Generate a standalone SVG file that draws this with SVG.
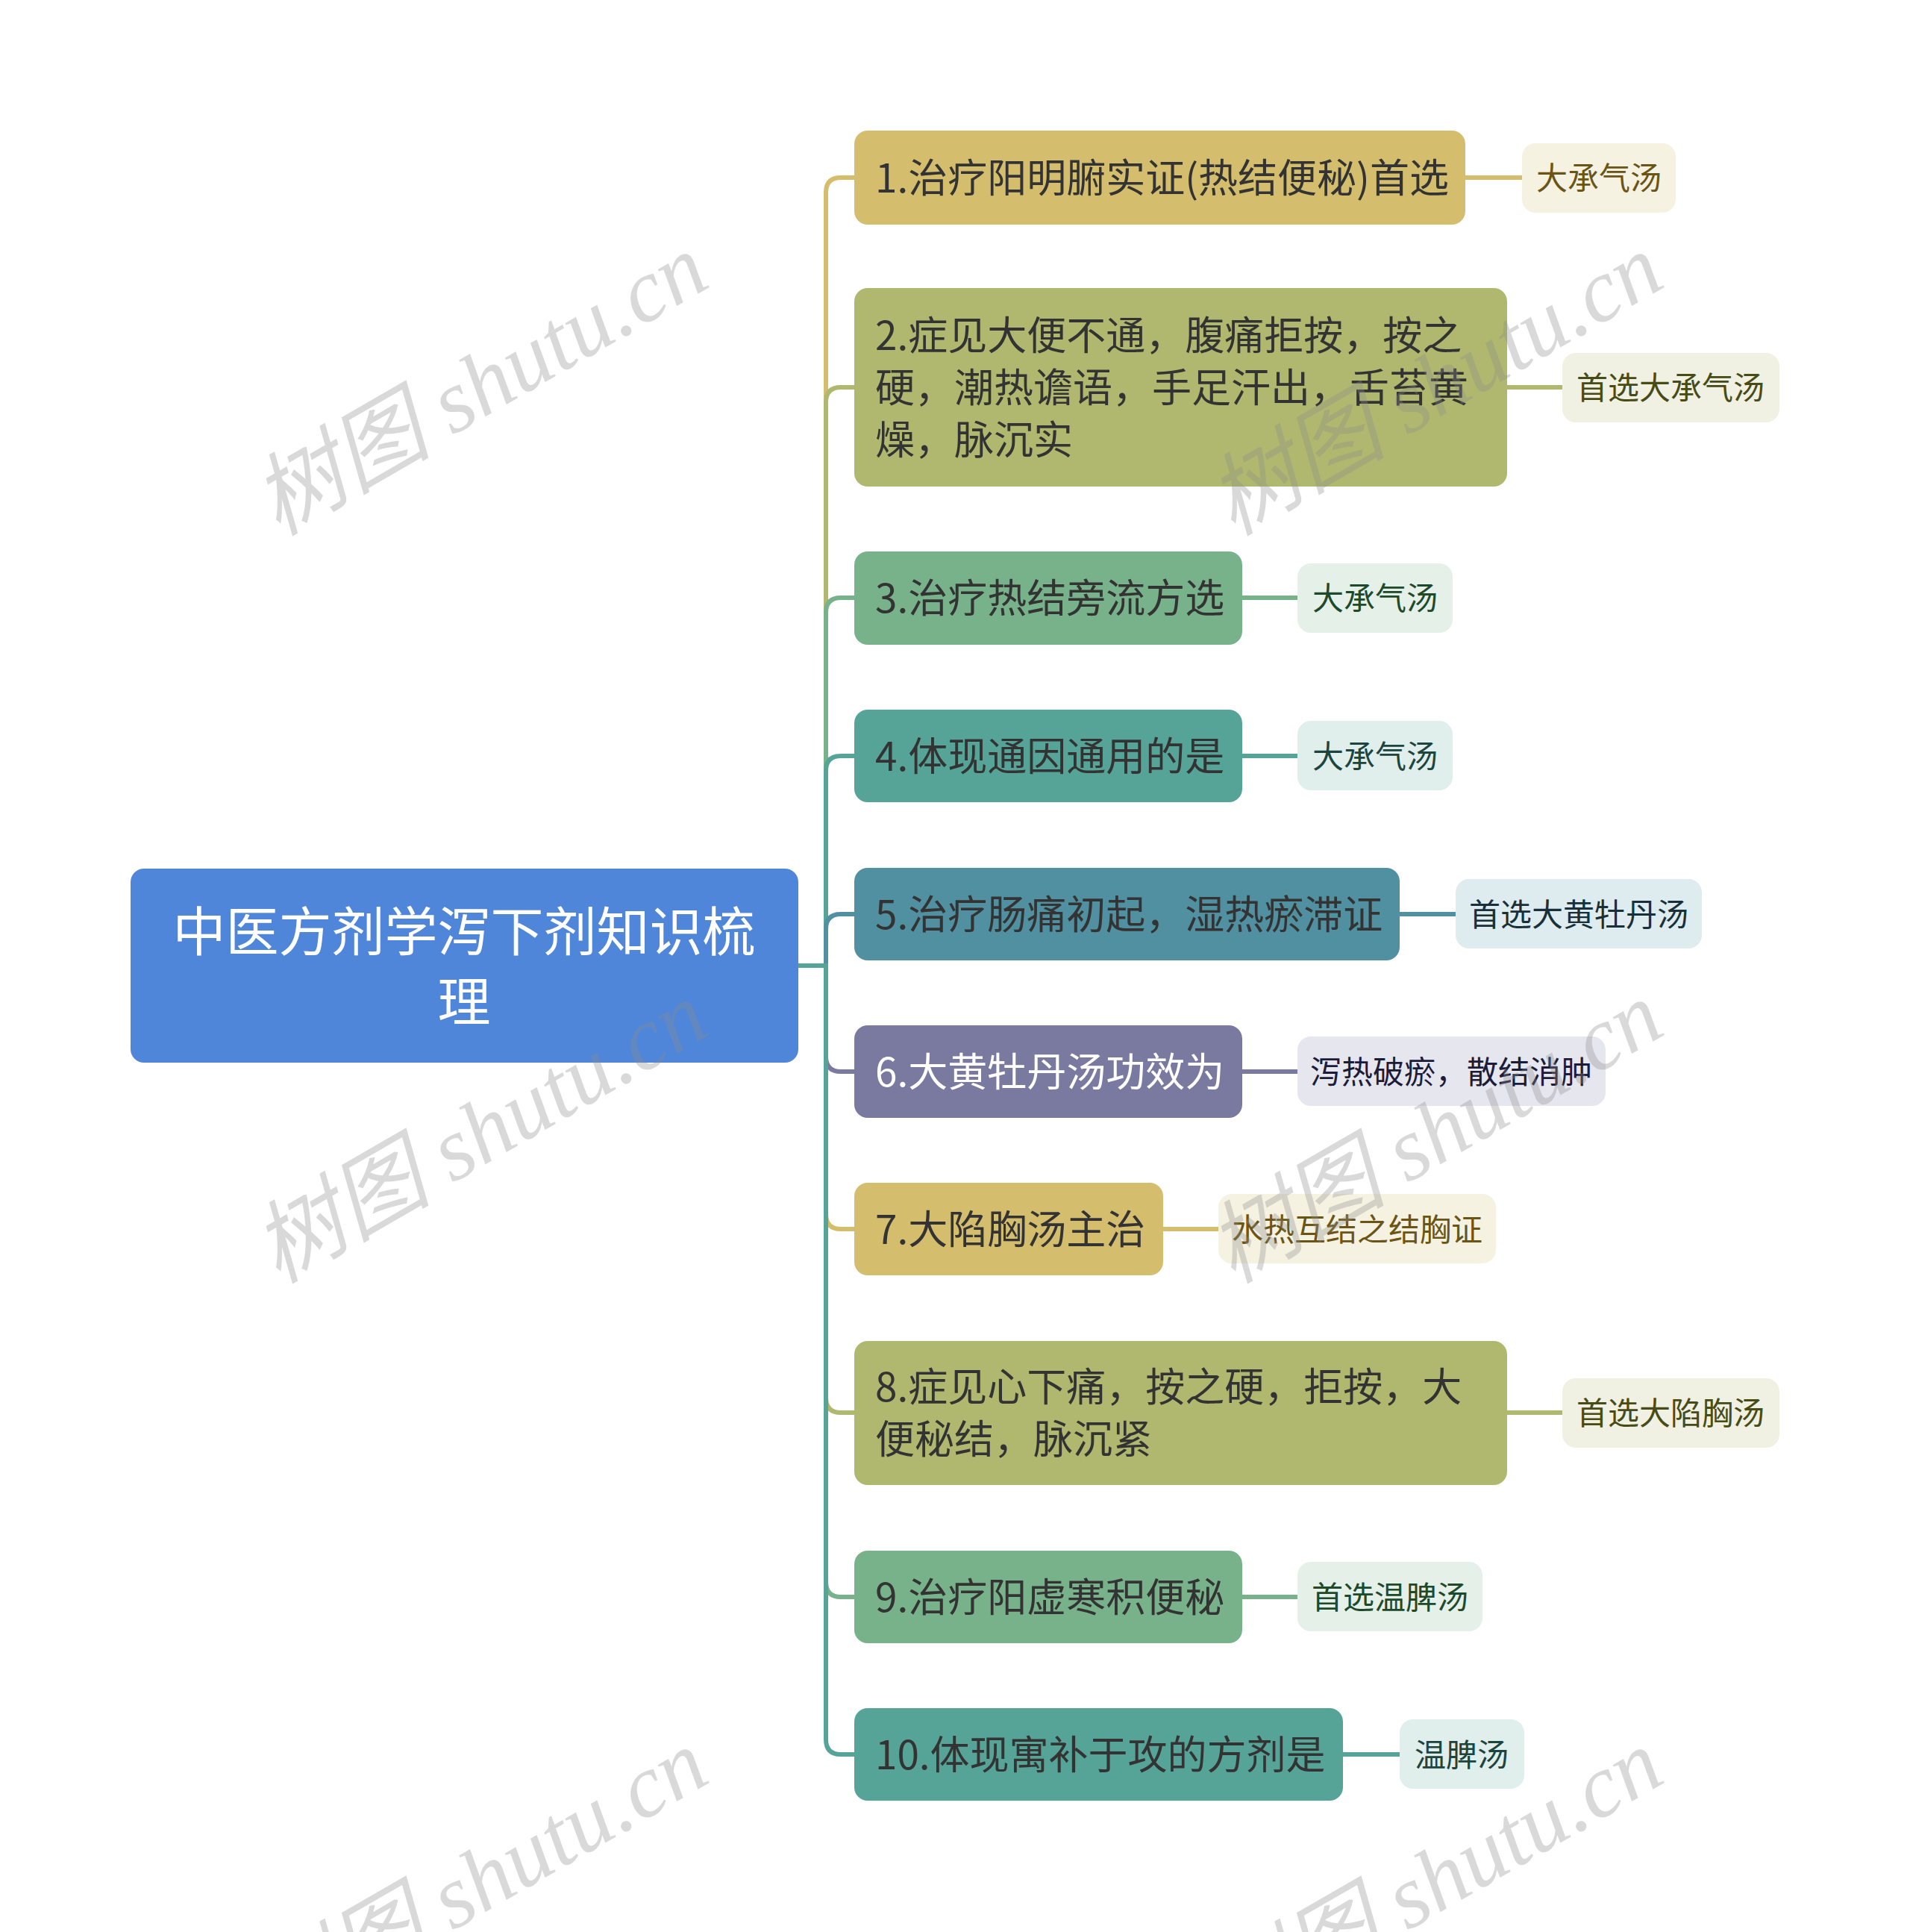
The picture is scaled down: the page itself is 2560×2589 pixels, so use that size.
<svg xmlns="http://www.w3.org/2000/svg" width="2560" height="2589" viewBox="0 0 2560 2589">
<style>
text{font-family:"Noto Sans CJK SC","Noto Sans",sans-serif;}
.nt{font-size:53px;fill:#333333;}
.lt{font-size:42px;text-anchor:middle;}
.rt{font-size:71px;fill:#ffffff;text-anchor:middle;}
.cn{fill:none;stroke-width:6;stroke-linecap:round;stroke-linejoin:round;}
.wm{font-family:"Liberation Serif","Noto Sans CJK SC",serif;font-style:italic;font-size:120px;fill:#8c8c8c;fill-opacity:0.33;text-anchor:middle;}
</style>
<rect width="2560" height="2589" fill="#ffffff"/>
<g id="connectors">
<path class="cn" stroke="#d4be6e" d="M1070,1294 H1107 V258 Q1107,238 1127,238 H1145"/>
<path class="cn" stroke="#afb86e" d="M1070,1294 H1107 V539 Q1107,519 1127,519 H1145"/>
<path class="cn" stroke="#78b28a" d="M1070,1294 H1107 V821 Q1107,801 1127,801 H1145"/>
<path class="cn" stroke="#56a498" d="M1070,1294 H1107 V1033 Q1107,1013 1127,1013 H1145"/>
<path class="cn" stroke="#5090a0" d="M1070,1294 H1107 V1245 Q1107,1225 1127,1225 H1145"/>
<path class="cn" stroke="#7a79a0" d="M1070,1294 H1107 V1416 Q1107,1436 1127,1436 H1145"/>
<path class="cn" stroke="#d4be6e" d="M1070,1294 H1107 V1627 Q1107,1647 1127,1647 H1145"/>
<path class="cn" stroke="#afb86e" d="M1070,1294 H1107 V1873 Q1107,1893 1127,1893 H1145"/>
<path class="cn" stroke="#78b28a" d="M1070,1294 H1107 V2120 Q1107,2140 1127,2140 H1145"/>
<path class="cn" stroke="#56a498" d="M1070,1294 H1107 V2331 Q1107,2351 1127,2351 H1145"/>
<path class="cn" stroke="#d4be6e" d="M1964,238 H2040"/>
<path class="cn" stroke="#afb86e" d="M2020,519 H2094"/>
<path class="cn" stroke="#78b28a" d="M1665,801 H1739"/>
<path class="cn" stroke="#56a498" d="M1665,1013 H1739"/>
<path class="cn" stroke="#5090a0" d="M1876,1225 H1951"/>
<path class="cn" stroke="#7a79a0" d="M1665,1436 H1739"/>
<path class="cn" stroke="#d4be6e" d="M1559,1647 H1633"/>
<path class="cn" stroke="#afb86e" d="M2020,1893 H2094"/>
<path class="cn" stroke="#78b28a" d="M1665,2140 H1739"/>
<path class="cn" stroke="#56a498" d="M1800,2351 H1876"/>
</g>
<g id="root">
<rect x="175" y="1164" width="895" height="260" rx="18" fill="#4f86d9"/>
<text class="rt" x="622" y="1274">中医方剂学泻下剂知识梳</text>
<text class="rt" x="622" y="1368">理</text>
</g>
<g id="n1"><rect x="1145" y="175" width="819" height="126" rx="18" fill="#d4be6e"/><text class="nt" x="1173" y="258">1.治疗阳明腑实证(热结便秘)首选</text></g>
<g id="n2"><rect x="1145" y="386" width="875" height="266" rx="18" fill="#afb86e"/><text class="nt" x="1173" y="469">2.症见大便不通，腹痛拒按，按之</text><text class="nt" x="1173" y="539">硬，潮热谵语，手足汗出，舌苔黄</text><text class="nt" x="1173" y="609">燥，脉沉实</text></g>
<g id="n3"><rect x="1145" y="739" width="520" height="125" rx="18" fill="#78b28a"/><text class="nt" x="1173" y="821">3.治疗热结旁流方选</text></g>
<g id="n4"><rect x="1145" y="951" width="520" height="124" rx="18" fill="#56a498"/><text class="nt" x="1173" y="1033">4.体现通因通用的是</text></g>
<g id="n5"><rect x="1145" y="1163" width="731" height="124" rx="18" fill="#5090a0"/><text class="nt" x="1173" y="1245">5.治疗肠痛初起，湿热瘀滞证</text></g>
<g id="n6"><rect x="1145" y="1374" width="520" height="124" rx="18" fill="#7a79a0"/><text class="nt" x="1173" y="1456" style="fill:#ffffff">6.大黄牡丹汤功效为</text></g>
<g id="n7"><rect x="1145" y="1585" width="414" height="124" rx="18" fill="#d4be6e"/><text class="nt" x="1173" y="1667">7.大陷胸汤主治</text></g>
<g id="n8"><rect x="1145" y="1797" width="875" height="193" rx="18" fill="#afb86e"/><text class="nt" x="1173" y="1878">8.症见心下痛，按之硬，拒按，大</text><text class="nt" x="1173" y="1948">便秘结，脉沉紧</text></g>
<g id="n9"><rect x="1145" y="2078" width="520" height="124" rx="18" fill="#78b28a"/><text class="nt" x="1173" y="2160">9.治疗阳虚寒积便秘</text></g>
<g id="n10"><rect x="1145" y="2289" width="655" height="124" rx="18" fill="#56a498"/><text class="nt" x="1173" y="2371">10.体现寓补于攻的方剂是</text></g>
<g id="l1"><rect x="2040" y="192" width="206" height="93" rx="18" fill="#f6f2e2"/><text class="lt" x="2143" y="254" fill="#6a5516">大承气汤</text></g>
<g id="l2"><rect x="2094" y="473" width="291" height="93" rx="18" fill="#f0f1e3"/><text class="lt" x="2239" y="535" fill="#474c16">首选大承气汤</text></g>
<g id="l3"><rect x="1739" y="755" width="208" height="93" rx="18" fill="#e5f0e9"/><text class="lt" x="1843" y="817" fill="#1d4a2b">大承气汤</text></g>
<g id="l4"><rect x="1739" y="966" width="208" height="93" rx="18" fill="#e0efec"/><text class="lt" x="1843" y="1029" fill="#1d4540">大承气汤</text></g>
<g id="l5"><rect x="1951" y="1178" width="330" height="93" rx="18" fill="#deebef"/><text class="lt" x="2116" y="1241" fill="#17303a">首选大黄牡丹汤</text></g>
<g id="l6"><rect x="1739" y="1389" width="413" height="93" rx="18" fill="#e6e6ef"/><text class="lt" x="1945" y="1452" fill="#1c1c3a">泻热破瘀，散结消肿</text></g>
<g id="l7"><rect x="1633" y="1600" width="372" height="93" rx="18" fill="#f6f2e2"/><text class="lt" x="1819" y="1663" fill="#6a5516">水热互结之结胸证</text></g>
<g id="l8"><rect x="2094" y="1847" width="291" height="93" rx="18" fill="#f0f1e3"/><text class="lt" x="2239" y="1909" fill="#474c16">首选大陷胸汤</text></g>
<g id="l9"><rect x="1739" y="2093" width="248" height="93" rx="18" fill="#e5f0e9"/><text class="lt" x="1863" y="2156" fill="#1d4a2b">首选温脾汤</text></g>
<g id="l10"><rect x="1876" y="2304" width="167" height="93" rx="18" fill="#e0efec"/><text class="lt" x="1959" y="2367" fill="#1d4540">温脾汤</text></g>
<g id="watermarks">
<text class="wm" transform="translate(644,516) rotate(-30)" y="40">树图 shutu.cn</text>
<text class="wm" transform="translate(1924,516) rotate(-30)" y="40">树图 shutu.cn</text>
<text class="wm" transform="translate(644,1518) rotate(-30)" y="40">树图 shutu.cn</text>
<text class="wm" transform="translate(1924,1518) rotate(-30)" y="40">树图 shutu.cn</text>
<text class="wm" transform="translate(644,2520) rotate(-30)" y="40">树图 shutu.cn</text>
<text class="wm" transform="translate(1924,2520) rotate(-30)" y="40">树图 shutu.cn</text>
</g>
</svg>
